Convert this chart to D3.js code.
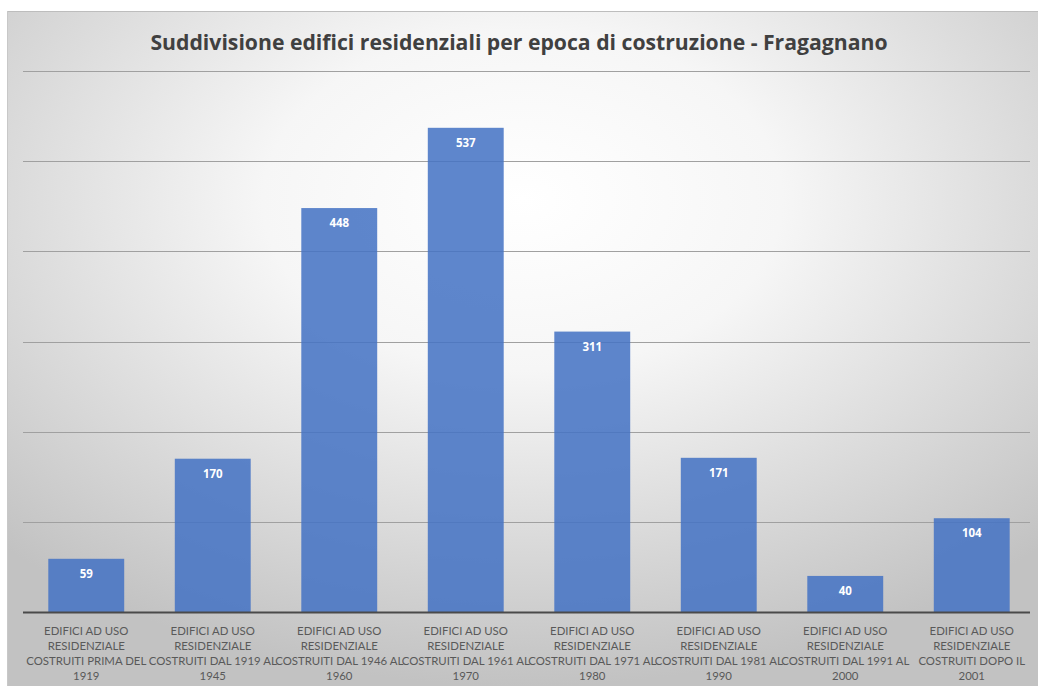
<!DOCTYPE html>
<html>
<head>
<meta charset="utf-8">
<script src="https://cdn.jsdelivr.net/npm/d3@7"></script>
<style>
  html, body { margin: 0; padding: 0; background: #ffffff; }
  svg { display: block; }
</style>
</head>
<body>
<svg id="chart" width="1038" height="686"></svg>
<script>
// Residential buildings by construction period
const title = "Suddivisione edifici residenziali per epoca di costruzione - Fragagnano";
const categories = [
  "EDIFICI AD USO\nRESIDENZIALE\nCOSTRUITI PRIMA DEL\n1919",
  "EDIFICI AD USO\nRESIDENZIALE\nCOSTRUITI DAL 1919 AL\n1945",
  "EDIFICI AD USO\nRESIDENZIALE\nCOSTRUITI DAL 1946 AL\n1960",
  "EDIFICI AD USO\nRESIDENZIALE\nCOSTRUITI DAL 1961 AL\n1970",
  "EDIFICI AD USO\nRESIDENZIALE\nCOSTRUITI DAL 1971 AL\n1980",
  "EDIFICI AD USO\nRESIDENZIALE\nCOSTRUITI DAL 1981 AL\n1990",
  "EDIFICI AD USO\nRESIDENZIALE\nCOSTRUITI DAL 1991 AL\n2000",
  "EDIFICI AD USO\nRESIDENZIALE\nCOSTRUITI DOPO IL\n2001"
];
const values = [59, 170, 448, 537, 311, 171, 40, 104];
const gridTicks = [100, 200, 300, 400, 500, 600];

const svg = d3.select("#chart");
const W = 1038, H = 686;

// background panel with soft radial shading
const defs = svg.append("defs");
const grad = defs.append("radialGradient")
  .attr("id", "bg").attr("cx", "50%").attr("cy", "28%").attr("r", "72%")
  .attr("gradientUnits", "objectBoundingBox");
grad.append("stop").attr("offset", "0%").attr("stop-color", "#ffffff");
grad.append("stop").attr("offset", "35%").attr("stop-color", "#f6f6f6");
grad.append("stop").attr("offset", "100%").attr("stop-color", "#c2c2c2");

svg.append("rect").attr("x", 7).attr("y", 11).attr("width", W - 7).attr("height", H - 11)
  .attr("fill", "url(#bg)");
svg.append("line").attr("x1", 7).attr("x2", W).attr("y1", 11.5).attr("y2", 11.5)
  .attr("stroke", "#bdbdbd").attr("stroke-width", 1);
svg.append("line").attr("x1", 7.5).attr("x2", 7.5).attr("y1", 11).attr("y2", H)
  .attr("stroke", "#c8c8c8").attr("stroke-width", 1);

const x = d3.scaleBand().domain(d3.range(categories.length)).range([23, 1035]).paddingInner(0.4).paddingOuter(0.2);
const y = d3.scaleLinear().domain([0, 600]).range([612, 71]);

// gridlines
svg.append("g").selectAll("line").data(gridTicks).join("line")
  .attr("x1", 23).attr("x2", 1030)
  .attr("y1", d => Math.round(y(d)) + 0.5).attr("y2", d => Math.round(y(d)) + 0.5)
  .attr("stroke", "#a0a0a0").attr("stroke-width", 1);

// bars
svg.append("g").selectAll("rect").data(values).join("rect")
  .attr("x", (d, i) => x(i))
  .attr("y", d => y(d))
  .attr("width", x.bandwidth())
  .attr("height", d => y(0) - y(d))
  .attr("fill", "#4472c4")
  .attr("fill-opacity", 0.86);

// value labels
svg.append("g").selectAll("text").data(values).join("text")
  .attr("x", (d, i) => x(i) + x.bandwidth() / 2)
  .attr("y", d => y(d) + 19)
  .attr("text-anchor", "middle")
  .attr("font-family", "'Open Sans', sans-serif")
  .attr("font-weight", "bold")
  .attr("font-size", 11.5)
  .attr("fill", "#ffffff")
  .text(d => d);

// baseline
svg.append("line").attr("x1", 23).attr("x2", 1030)
  .attr("y1", y(0) + 0.5).attr("y2", y(0) + 0.5)
  .attr("stroke", "#4a4a4a").attr("stroke-width", 2);

// category labels
const xAxis = svg.append("g");
categories.forEach((c, i) => {
  const t = xAxis.append("text")
    .attr("text-anchor", "middle")
    .attr("font-family", "Lato, 'Open Sans', sans-serif")
    .attr("font-size", 11.4)
    .attr("fill", "#595959");
  c.split("\n").forEach((line, k) => {
    t.append("tspan")
      .attr("x", x(i) + x.bandwidth() / 2)
      .attr("y", 634.5 + k * 15.3)
      .text(line);
  });
});

// title
svg.append("text")
  .attr("x", 519).attr("y", 50)
  .attr("text-anchor", "middle")
  .attr("font-family", "'Open Sans', sans-serif")
  .attr("font-weight", "bold")
  .attr("font-size", 21.2)
  .attr("fill", "#404040")
  .text(title);
</script>
</body>
</html>
